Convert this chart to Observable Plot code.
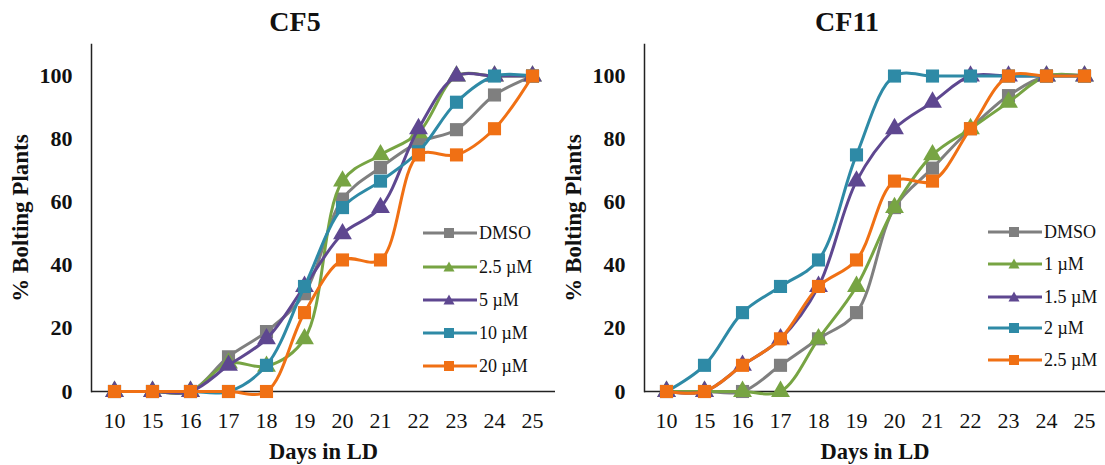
<!DOCTYPE html>
<html>
<head>
<meta charset="utf-8">
<script src="https://cdn.jsdelivr.net/npm/d3@7"></script>
<script src="https://cdn.jsdelivr.net/npm/@observablehq/plot@0.6"></script>
<style>
  body { margin: 0; background: #fff; }
  #wrap { position: relative; width: 1105px; height: 465px; font-family: "Liberation Serif", "Times New Roman", serif; }
  #wrap svg, #wrap svg text { font-family: "Liberation Serif", "Times New Roman", serif !important; }
  .panel { position: absolute; top: 0; }
  .title { height: 36px; line-height: 36px; font-weight: bold; font-size: 28px; color: #111; position: relative; }
  .title span { position: absolute; transform: translateX(-50%); top: 4px; white-space: nowrap; }
  g[aria-label="y-axis tick label"] text { font-weight: bold; }
  g[aria-label="x-axis label"] text { font-weight: bold; font-size: 22.5px; }
  g[aria-label="y-axis label"] text { font-weight: bold; font-size: 23px; }
  .legend { position: absolute; font-size: 18px; color: #111; }
  .legend .item { position: absolute; display: flex; align-items: center; white-space: nowrap; }
</style>
</head>
<body>
<div id="wrap"></div>
<script>
// ---- data ----
const days = ["10", "15", "16", "17", "18", "19", "20", "21", "22", "23", "24", "25"];
const yTicks = [0, 20, 40, 60, 80, 100];

const cf5Names = ["DMSO", "2.5 µM", "5 µM", "10 µM", "20 µM"];
const cf5_DMSO = [0, 0, 0, 11, 19, 31, 61, 71, 79, 83, 94, 100];
const cf5_2_5 = [0, 0, 0, 9, 8, 16.7, 66.7, 75, 82, 100, 100, 100];
const cf5_5 = [0, 0, 0, 8.3, 16.7, 33.3, 50, 58.3, 83.3, 100, 100, 100];
const cf5_10 = [0, 0, 0, 0, 8.3, 33.3, 58.3, 66.7, 76, 91.7, 100, 100];
const cf5_20 = [0, 0, 0, 0, 0, 25, 41.7, 41.7, 75, 75, 83.3, 100];

const cf11Names = ["DMSO", "1 µM", "1.5 µM", "2 µM", "2.5 µM"];
const cf11_DMSO = [0, 0, 0, 8.3, 16.7, 25, 58.3, 70.8, 83.3, 93.8, 100, 100];
const cf11_1 = [0, 0, 0, 0, 16.7, 33.3, 58.3, 75, 83.3, 91.7, 100, 100];
const cf11_1_5 = [0, 0, 8.3, 16.7, 33.3, 66.7, 83.3, 91.7, 100, 100, 100, 100];
const cf11_2 = [0, 8.3, 25, 33.3, 41.7, 75, 100, 100, 100, 100, 100, 100];
const cf11_2_5 = [0, 0, 8.3, 16.7, 33.3, 41.7, 66.7, 66.7, 83.3, 100, 100, 100];

const colors = ["#7f7f7f", "#77a443", "#5e4790", "#2e8aa6", "#f07014"];
const symbols = ["square", "triangle", "triangle", "square", "square"];

// ---- drawing ----
const wrap = document.getElementById("wrap");

function panel({left, width, titleText, titleX, names, values, marginLeft, marginRight, legendX, legendYs}) {
  const div = document.createElement("div");
  div.className = "panel";
  div.style.left = left + "px";
  div.style.width = width + "px";
  const t = document.createElement("div");
  t.className = "title";
  const s = document.createElement("span");
  s.style.left = (titleX - left) + "px";
  s.textContent = titleText;
  t.appendChild(s);
  div.appendChild(t);

  const marks = [
    Plot.ruleY([0], {stroke: "#222", strokeWidth: 1.5}),
    Plot.frame({anchor: "left", stroke: "#222", strokeWidth: 1.5}),
    Plot.axisY({ticks: yTicks, tickSize: 0, tickPadding: 19, fontSize: 22, label: "% Bolting Plants", labelAnchor: "center", labelOffset: 80, labelArrow: "none"}),
    Plot.axisX({tickSize: 0, tickPadding: 21, fontSize: 22, label: "Days in LD", labelAnchor: "center", labelOffset: 67, labelArrow: "none"})
  ];
  names.forEach((name, i) => {
    const data = days.map((d, j) => ({day: d, value: values[i][j]}));
    marks.push(Plot.line(data, {x: "day", y: "value", stroke: colors[i], strokeWidth: 3, curve: "catmull-rom"}));
    marks.push(Plot.dot(data, {x: "day", y: "value", symbol: symbols[i], r: symbols[i] === "square" ? 7.4 : 7, fill: colors[i], stroke: "none"}));
  });

  const chart = Plot.plot({
    width, height: 429,
    marginLeft, marginRight, marginTop: 8, marginBottom: 74,
    style: "font-family: 'Liberation Serif', 'Times New Roman', serif; color: #111; background: transparent;",
    x: {type: "point", domain: days, padding: 0.5},
    y: {domain: [0, 110]},
    marks
  });
  div.appendChild(chart);
  wrap.appendChild(div);

  const lg = document.createElement("div");
  lg.className = "legend";
  lg.style.left = "0px"; lg.style.top = "0px";
  names.forEach((name, i) => {
    const it = document.createElement("div");
    it.className = "item";
    it.style.left = legendX + "px";
    it.style.top = (legendYs[i] - 11) + "px";
    it.style.height = "22px";
    const sym = symbols[i] === "square"
      ? `<rect x="21" y="2" width="10" height="10" fill="${colors[i]}"/>`
      : `<path d="M26,1.5 L31.5,11.5 L20.5,11.5 Z" fill="${colors[i]}"/>`;
    it.innerHTML = `<svg width="54" height="14" style="display:block"><line x1="0" x2="54" y1="7" y2="7" stroke="${colors[i]}" stroke-width="3"/>${sym}</svg><span style="margin-left:2px">${name}</span>`;
    lg.appendChild(it);
  });
  wrap.appendChild(lg);
}

panel({left: 0, width: 558, titleText: "CF5", titleX: 295, names: cf5Names,
  values: [cf5_DMSO, cf5_2_5, cf5_5, cf5_10, cf5_20],
  marginLeft: 91, marginRight: 3, legendX: 423, legendYs: [233, 267, 300, 333, 366]});
panel({left: 558, width: 547, titleText: "CF11", titleX: 847, names: cf11Names,
  values: [cf11_DMSO, cf11_1, cf11_1_5, cf11_2, cf11_2_5],
  marginLeft: 86, marginRight: 0, legendX: 988, legendYs: [232, 264, 297, 328, 360]});
</script>
</body>
</html>
